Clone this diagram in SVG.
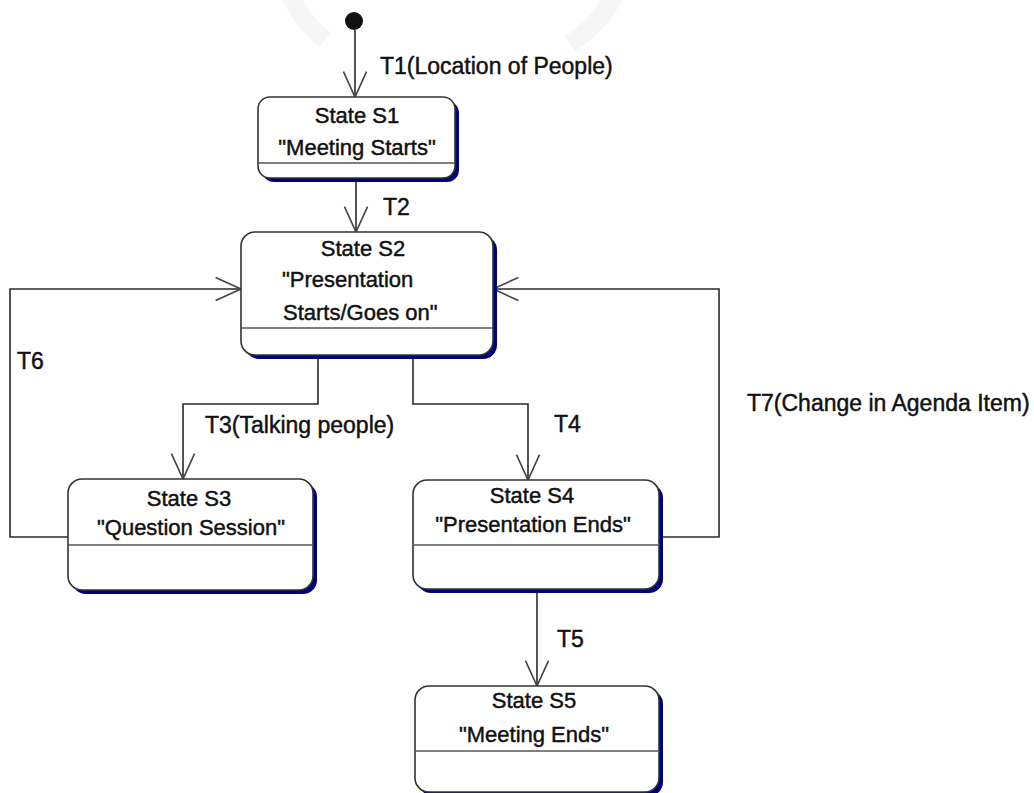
<svg xmlns="http://www.w3.org/2000/svg" width="1034" height="793" viewBox="0 0 1034 793">
  <defs>
    <marker id="open-arrow" markerUnits="userSpaceOnUse" markerWidth="30" markerHeight="30" viewBox="-24 -12 26 24" refX="0" refY="0" orient="auto">
      <path d="M-22,-10 L0,0 L-22,10" fill="none" stroke="#444" stroke-width="1.4"/>
    </marker>
  </defs>
  <style>
    .shadow { fill: #00007a; }
    .box { fill: #ffffff; stroke: #333333; stroke-width: 1.6; }
    .divider { stroke: #555555; stroke-width: 1.6; }
    text { font-family: "Liberation Sans", Arial, sans-serif; fill: #111111; stroke: #111111; stroke-width: 0.45; }
    .title { font-size: 22px; text-anchor: middle; }
    .body { font-size: 22px; }
    .label { font-size: 23px; }
    .edge { fill: none; stroke: #2a2a2a; stroke-width: 1.6; marker-end: url(#open-arrow); }
    .mark { fill: none; stroke: #f6f6f6; stroke-width: 18; }
  </style>

  <rect width="1034" height="793" fill="#ffffff"/>

  <!-- faint background mark -->
  <g id="backdrop">
    <path class="mark" d="M285,-15 Q300,20 325,40"/>
    <path class="mark" d="M620,-15 Q605,20 570,44"/>
  </g>

  <!-- transitions -->
  <g id="connectors">
    <path class="edge" d="M355,30 L355,97"/>
    <path class="edge" d="M356,182 L356,232"/>
    <path class="edge" d="M318,359 L318,404 L183,404 L183,479"/>
    <path class="edge" d="M413,359 L413,404 L528,404 L528,480"/>
    <path class="edge" d="M537,593 L537,686"/>
    <path class="edge" d="M68,537 L10,537 L10,289 L241,289"/>
    <path class="edge" d="M663,537 L719,537 L719,289 L493,289"/>
  </g>

  <!-- transition labels -->
  <g id="labels">
    <text class="label" x="380" y="74">T1(Location of People)</text>
    <text class="label" x="383" y="215">T2</text>
    <text class="label" x="205" y="433">T3(Talking people)</text>
    <text class="label" x="554" y="432">T4</text>
    <text class="label" x="557" y="647">T5</text>
    <text class="label" x="17" y="369">T6</text>
    <text class="label" x="747" y="411">T7(Change in Agenda Item)</text>
  </g>

  <!-- initial pseudo-state -->
  <g id="start">
    <circle cx="354" cy="21" r="9" fill="#111111"/>
  </g>

  <g id="s1">
    <rect class="shadow" x="262" y="101" width="197" height="81" rx="12"/>
    <rect class="box" x="258" y="97" width="197" height="81" rx="12"/>
    <line class="divider" x1="258" y1="163" x2="455" y2="163"/>
    <text class="title" x="357" y="123">State S1</text>
    <text class="title" x="357" y="155">"Meeting Starts"</text>
  </g>

  <g id="s2">
    <rect class="shadow" x="245" y="236" width="252" height="123" rx="14"/>
    <rect class="box" x="241" y="232" width="252" height="123" rx="14"/>
    <line class="divider" x1="241" y1="328" x2="493" y2="328"/>
    <text class="title" x="363" y="256">State S2</text>
    <text class="body" x="282" y="287">"Presentation</text>
    <text class="body" x="283" y="320">Starts/Goes on"</text>
  </g>

  <g id="s3">
    <rect class="shadow" x="72" y="483" width="245" height="111" rx="14"/>
    <rect class="box" x="68" y="479" width="245" height="111" rx="14"/>
    <line class="divider" x1="68" y1="545" x2="313" y2="545"/>
    <text class="title" x="189" y="506">State S3</text>
    <text class="title" x="191" y="535">"Question Session"</text>
  </g>

  <g id="s4">
    <rect class="shadow" x="417" y="484" width="246" height="109" rx="14"/>
    <rect class="box" x="413" y="480" width="246" height="109" rx="14"/>
    <line class="divider" x1="413" y1="545" x2="659" y2="545"/>
    <text class="title" x="532" y="503">State S4</text>
    <text class="title" x="533" y="532">"Presentation Ends"</text>
  </g>

  <g id="s5">
    <rect class="shadow" x="419" y="690" width="244" height="106" rx="14"/>
    <rect class="box" x="415" y="686" width="244" height="106" rx="14"/>
    <line class="divider" x1="415" y1="751" x2="659" y2="751"/>
    <text class="title" x="534" y="708">State S5</text>
    <text class="title" x="534" y="742">"Meeting Ends"</text>
  </g>
</svg>
